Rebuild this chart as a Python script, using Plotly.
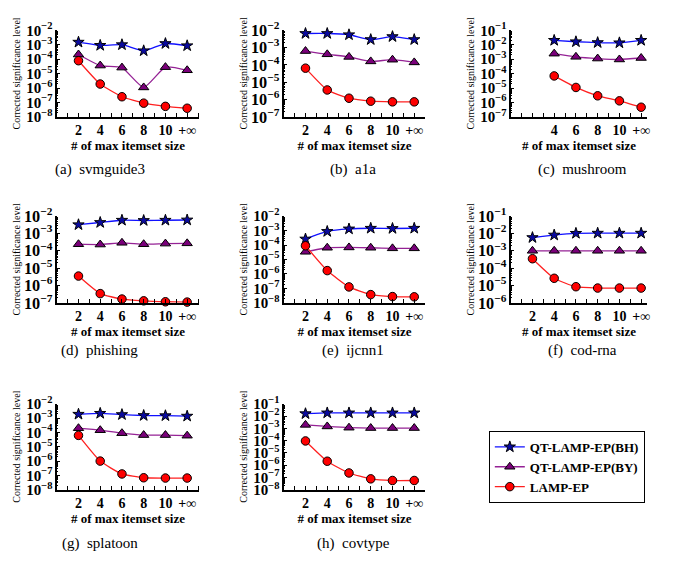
import plotly.graph_objects as go

W, H = 676, 569

# ---- data ----
x_full = [2, 4, 6, 8, 10, 12]
x_mush = [4, 6, 8, 10, 12]
tick_full = ["2", "4", "6", "8", "10", "+\u221e"]
tick_mush = ["4", "6", "8", "10", "+\u221e"]

series_names = ["QT-LAMP-EP(BH)", "QT-LAMP-EP(BY)", "LAMP-EP"]

svmguide3_bh = [1.5e-3, 9e-4, 1e-3, 3.8e-4, 1.2e-3, 8.5e-4]
svmguide3_by = [2.1e-4, 3.6e-5, 2.6e-5, 1.1e-6, 2.8e-5, 1.7e-5]
svmguide3_ep = [7.8e-5, 1.9e-6, 2.5e-7, 9e-8, 5.4e-8, 4e-8]

a1a_bh = [6.5e-3, 6.5e-3, 5.5e-3, 2.9e-3, 4.3e-3, 2.9e-3]
a1a_by = [6.3e-4, 4.1e-4, 2.9e-4, 1.6e-4, 2e-4, 1.4e-4]
a1a_ep = [6.5e-5, 3.6e-6, 1.2e-6, 8.1e-7, 7.4e-7, 7.4e-7]

mushroom_bh = [2e-2, 1.6e-2, 1.4e-2, 1.35e-2, 2e-2]
mushroom_by = [2.4e-3, 1.45e-3, 1.1e-3, 9.5e-4, 1.2e-3]
mushroom_ep = [6.9e-5, 1.1e-5, 2.9e-6, 1.3e-6, 4.7e-7]

phishing_bh = [3.2e-3, 4.3e-3, 5.8e-3, 5.6e-3, 5.8e-3, 6e-3]
phishing_by = [2.4e-4, 2.3e-4, 2.9e-4, 2.4e-4, 2.6e-4, 2.7e-4]
phishing_ep = [3.5e-6, 3.4e-7, 1.65e-7, 1.3e-7, 1.15e-7, 1.1e-7]

ijcnn1_bh = [2.6e-4, 8.7e-4, 1.3e-3, 1.45e-3, 1.4e-3, 1.45e-3]
ijcnn1_by = [3.4e-5, 6.5e-5, 6.8e-5, 6.5e-5, 5.9e-5, 5.9e-5]
ijcnn1_ep = [8.9e-5, 1.7e-6, 1.26e-7, 3.7e-8, 2.7e-8, 2.6e-8]

codrna_bh = [5.8e-3, 8.1e-3, 1.02e-2, 1.04e-2, 1.04e-2, 1.04e-2]
codrna_by = [1e-3, 1e-3, 1e-3, 1e-3, 1e-3, 1e-3]
codrna_ep = [3.5e-4, 2.6e-5, 8.5e-6, 7.1e-6, 7.1e-6, 7.1e-6]

splatoon_bh = [1.9e-3, 2.2e-3, 1.8e-3, 1.55e-3, 1.5e-3, 1.4e-3]
splatoon_by = [2e-4, 1.45e-4, 9e-5, 6.6e-5, 6.6e-5, 6e-5]
splatoon_ep = [6.3e-5, 1e-6, 1.26e-7, 6.8e-8, 6.5e-8, 6.5e-8]

covtype_bh = [1.6e-2, 1.85e-2, 1.85e-2, 1.85e-2, 1.85e-2, 1.85e-2]
covtype_by = [1.95e-3, 1.45e-3, 1.15e-3, 1.07e-3, 1.07e-3, 1.07e-3]
covtype_ep = [9.5e-5, 2.1e-6, 2.3e-7, 7.6e-8, 5.6e-8, 5.6e-8]

panels = [
    ("(a)  svmguide3", x_full, tick_full, [svmguide3_bh, svmguide3_by, svmguide3_ep], [-8, -2]),
    ("(b)  a1a", x_full, tick_full, [a1a_bh, a1a_by, a1a_ep], [-7, -2]),
    ("(c)  mushroom", x_mush, tick_mush, [mushroom_bh, mushroom_by, mushroom_ep], [-7, -1]),
    ("(d)  phishing", x_full, tick_full, [phishing_bh, phishing_by, phishing_ep], [-7, -2]),
    ("(e)  ijcnn1", x_full, tick_full, [ijcnn1_bh, ijcnn1_by, ijcnn1_ep], [-8, -2]),
    ("(f)  cod-rna", x_full, tick_full, [codrna_bh, codrna_by, codrna_ep], [-6, -1]),
    ("(g)  splatoon", x_full, tick_full, [splatoon_bh, splatoon_by, splatoon_ep], [-8, -2]),
    ("(h)  covtype", x_full, tick_full, [covtype_bh, covtype_by, covtype_ep], [-8, -1]),
]

# ---- layout geometry (pixels) ----
col_px = [(57, 200, 13.1), (285, 427, 13.0), (513, 650, 12.55)]
row_px = [(20, 110), (213, 303), (408, 497)]
caption_x = [100, 355, 585]
caption_y = [165, 352, 553]

styles = [
    dict(line=dict(color="#1010ff", width=1.3), marker=dict(symbol="star", size=8.5, color="#0a0aa0", line=dict(color="black", width=1))),
    dict(line=dict(color="#952295", width=1.3), marker=dict(symbol="triangle-up", size=9, color="#7a007a", line=dict(color="black", width=1))),
    dict(line=dict(color="#ff2020", width=1.3), marker=dict(symbol="circle", size=8.5, color="#ff0000", line=dict(color="black", width=1))),
]

SERIF = "Liberation Serif"
fig = go.Figure()
annotations = []

for i, (cap, xs, ticks, ys, yr) in enumerate(panels):
    r, c = divmod(i, 3)
    x0, x1, xmax = col_px[c]
    y0, y1 = row_px[r]
    n = i + 1
    xa = "xaxis" if n == 1 else f"xaxis{n}"
    ya = "yaxis" if n == 1 else f"yaxis{n}"
    xref = "x" if n == 1 else f"x{n}"
    yref = "y" if n == 1 else f"y{n}"
    for k in range(3):
        fig.add_trace(go.Scatter(
            x=xs, y=ys[k], mode="lines+markers", name=series_names[k],
            legendgroup=series_names[k], showlegend=(i == 0),
            line=dict(styles[k]["line"], shape="spline", smoothing=0.5),
            marker=styles[k]["marker"], xaxis=xref, yaxis=yref, cliponaxis=False,
        ))
    ysize = 12 if (yr[1] - yr[0]) >= 6 else 13
    fig.layout[xa] = dict(
        domain=[x0 / W, x1 / W], range=[0, xmax], anchor=yref,
        showline=True, linecolor="black", linewidth=1.5, mirror=False,
        showgrid=False, zeroline=False,
        tickmode="array", tickvals=xs, ticktext=ticks,
        ticks="inside", ticklen=4, tickcolor="black",
        minor=dict(tickmode="linear", tick0=0, dtick=1, ticks="inside", ticklen=4, tickcolor="black"),
        tickfont=dict(family=SERIF, size=14, color="black", weight="bold"),
        title=dict(text="# of max itemset size", standoff=3,
                   font=dict(family=SERIF, size=13, color="black", weight="bold")),
    )
    fig.layout[ya] = dict(
        domain=[1 - y1 / H, 1 - y0 / H], type="log", range=yr, anchor=xref,
        showline=True, linecolor="black", linewidth=1.5,
        showgrid=False, zeroline=False, dtick=1, exponentformat="power",
        ticks="inside", ticklen=4, tickcolor="black",
        minor=dict(ticks="inside", ticklen=2, tickcolor="black"),
        tickfont=dict(family=SERIF, size=ysize, color="black", weight="bold"),
    )
    annotations.append(dict(
        text="Corrected significance level", textangle=-90,
        x=(x0 - 40) / W, y=1 - (y0 + y1) / 2 / H, xref="paper", yref="paper",
        xanchor="center", yanchor="middle", showarrow=False,
        font=dict(family=SERIF, size=10, color="black"),
    ))
    annotations.append(dict(
        text=cap, x=caption_x[c] / W, y=1 - caption_y[r] / H, xref="paper", yref="paper",
        xanchor="center", yanchor="middle", showarrow=False,
        font=dict(family=SERIF, size=15, color="black"),
    ))

fig.update_layout(
    width=W, height=H, margin=dict(l=0, r=0, t=0, b=0),
    paper_bgcolor="white", plot_bgcolor="white",
    annotations=annotations,
    legend=dict(x=491 / W, y=1 - 436 / H, xanchor="left", yanchor="top",
                bordercolor="black", borderwidth=1, bgcolor="white",
                font=dict(family=SERIF, size=13, color="black", weight="bold"),
                itemwidth=30, tracegroupgap=0),
)

fig.write_html("out.html")
